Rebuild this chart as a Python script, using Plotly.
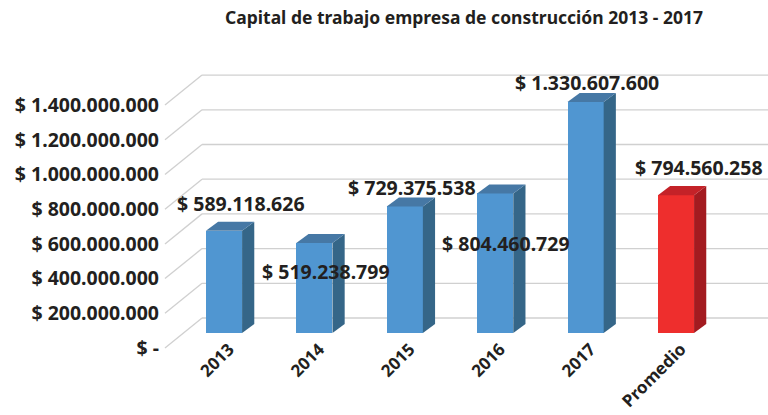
import plotly.graph_objects as go

# ---- data ----
categories = ["2013", "2014", "2015", "2016", "2017", "Promedio"]
values = [589118626, 519238799, 729375538, 804460729, 1330607600, 794560258]
value_labels = ["$ 589.118.626", "$ 519.238.799", "$ 729.375.538",
                "$ 804.460.729", "$ 1.330.607.600", "$ 794.560.258"]
tick_values = [0, 200e6, 400e6, 600e6, 800e6, 1000e6, 1200e6, 1400e6]
tick_labels = ["$ -", "$ 200.000.000", "$ 400.000.000", "$ 600.000.000",
               "$ 800.000.000", "$ 1.000.000.000", "$ 1.200.000.000", "$ 1.400.000.000"]
title = "Capital de trabajo empresa de construcción 2013 - 2017"

# ---- layout / style (not data) ----
label_dx = [0.19, 0.13, 0.08, 0.12, 0.015, 0.25]          # label x offsets (category units)
label_y = [749e6, 352e6, 841e6, 513e6, 1441e6, 951e6]     # label placement heights
front_col = ["#5096D1"] * 5 + ["#EE2E2D"]
side_col = ["#356688"] * 5 + ["#A31B20"]
top_col = ["#4678A5"] * 5 + ["#C42228"]
bar_w = 0.40
dx = 0.135          # depth in category units
dy = 52e6           # depth in value units
wall_dy = 86.5e6    # half depth of floor in value units
wall_x_back = -0.243
wall_x_front = -0.653
FONT = "Noto Sans"
TXT = "#231F20"
FS = 19.5

xr = [-0.708, 6.018]
yr = [-109.5e6, 1631e6]

fig = go.Figure()

# front faces
fig.add_trace(go.Bar(x=list(range(len(categories))), y=values, width=bar_w,
                     marker=dict(color=front_col, line=dict(width=0)),
                     showlegend=False, hoverinfo="skip"))

# side and top faces
for i, v in enumerate(values):
    xl, xrr = i - bar_w / 2, i + bar_w / 2
    fig.add_trace(go.Scatter(x=[xrr, xrr, xrr + dx, xrr + dx, xrr],
                             y=[0, v, v + dy, dy, 0], fill="toself",
                             fillcolor=side_col[i], mode="lines",
                             line=dict(width=0, color=side_col[i]),
                             showlegend=False, hoverinfo="skip"))
    fig.add_trace(go.Scatter(x=[xl, xrr, xrr + dx, xl + dx, xl],
                             y=[v, v, v + dy, v + dy, v], fill="toself",
                             fillcolor=top_col[i], mode="lines",
                             line=dict(width=0, color=top_col[i]),
                             showlegend=False, hoverinfo="skip"))

# invisible trace for the front-edge tick axis
fig.add_trace(go.Scatter(x=[0], y=[0], yaxis="y2", mode="markers",
                         marker=dict(opacity=0), showlegend=False, hoverinfo="skip"))

# gridlines (back wall + side diagonals)
shapes = []
for t in tick_values:
    shapes.append(dict(type="line", xref="x", yref="y", layer="below",
                       x0=wall_x_back, y0=t + wall_dy, x1=xr[1] + 1, y1=t + wall_dy,
                       line=dict(color="#D0D0D0", width=1.3)))
    shapes.append(dict(type="line", xref="x", yref="y", layer="below",
                       x0=wall_x_front, y0=t - wall_dy, x1=wall_x_back, y1=t + wall_dy,
                       line=dict(color="#D0D0D0", width=1.3)))

annotations = []
for i, lab in enumerate(value_labels):
    annotations.append(dict(x=i + label_dx[i], y=label_y[i], xref="x", yref="y",
                            text=lab, showarrow=False,
                            font=dict(family=FONT, size=FS, color=TXT, weight="bold")))

fig.update_layout(
    width=768, height=415,
    margin=dict(l=160, r=0, t=50, b=63, autoexpand=False),
    paper_bgcolor="white", plot_bgcolor="rgba(0,0,0,0)",
    title=dict(text=title, x=0.5, xref="paper", y=1 - 17.5 / 415, yref="container",
               xanchor="center", yanchor="middle",
               font=dict(family=FONT, size=17.5, color=TXT, weight="bold")),
    shapes=shapes, annotations=annotations,
    xaxis=dict(range=xr, domain=[0, 1], tickmode="array", automargin=False,
               tickvals=list(range(len(categories))), ticktext=categories,
               tickangle=-45, showgrid=False, zeroline=False, showline=False,
               ticks="", ticklabelshift=5, ticklabelstandoff=-17,
               tickfont=dict(family=FONT, size=17, color=TXT, weight="bold")),
    yaxis=dict(range=yr, showgrid=False, zeroline=False, showline=False,
               showticklabels=False, ticks="", automargin=False),
    yaxis2=dict(range=[yr[0] + wall_dy, yr[1] + wall_dy], overlaying="y", side="left",
                tickmode="array", tickvals=tick_values, ticktext=tick_labels,
                showgrid=False, zeroline=False, showline=False, ticks="", automargin=False,
                tickfont=dict(family=FONT, size=FS, color=TXT, weight="bold")),
    bargap=0,
)

fig.write_html("out.html", config={"displayModeBar": False},
               post_script="document.body.style.margin='0';")
